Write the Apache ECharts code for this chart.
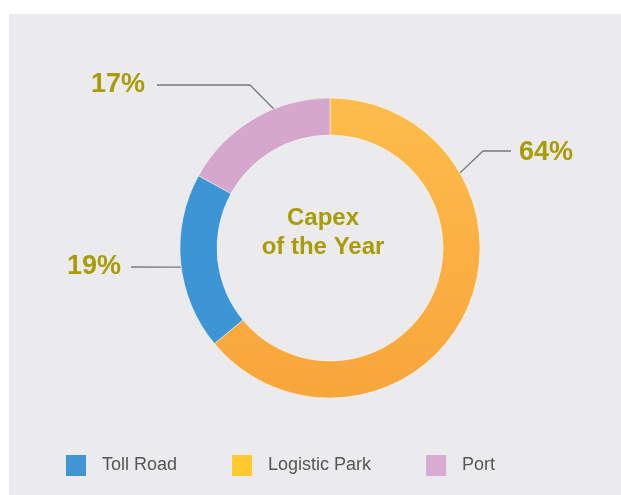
<!DOCTYPE html>
<html>
<head>
<meta charset="utf-8">
<script src="https://cdn.jsdelivr.net/npm/echarts@6/dist/echarts.min.js"></script>
<style>
  html, body { margin: 0; padding: 0; background: #ffffff; }
  #panel { position: absolute; left: 9px; top: 14px; width: 612px; height: 481px; background: #ebebed; }
  #chart { position: absolute; left: 0; top: 0; width: 621px; height: 495px; }
</style>
</head>
<body>
<div id="panel"></div>
<div id="chart"></div>
<script>
// Capex split by business segment (percent of the year's total)
const categories = ['Logistic Park', 'Toll Road', 'Port'];
const shares = [64, 19, 17];
const legendOrder = ['Toll Road', 'Logistic Park', 'Port'];
const centerTitle = 'Capex\nof the Year';

const CX = 330, CY = 248, R_IN = 113, R_OUT = 150;
const FONT = '"Liberation Sans", Arial, Helvetica, sans-serif';
const OLIVE = '#a99b02';

const sliceColors = {
  'Logistic Park': new echarts.graphic.LinearGradient(0, 0, 0, 1, [
    { offset: 0, color: '#fdbd4a' },
    { offset: 1, color: '#f8a53b' }
  ]),
  'Toll Road': '#3c95d5',
  'Port': '#d5a7cc'
};
const legendColors = {
  'Toll Road': '#4294d2',
  'Logistic Park': '#ffca30',
  'Port': '#d8acd0'
};

// Callout geometry: where the leader line meets the ring (deg clockwise from 12 o'clock),
// the elbow, the line end, and where the label text sits.
const callouts = {
  'Logistic Park': { angle: 60, elbow: [483, 151], end: [511, 151], text: [519, 153], align: 'left' },
  'Toll Road':     { angle: 262.7, elbow: [131, 267], end: [131, 267], text: [121, 267], align: 'right' },
  'Port':          { angle: 338, elbow: [250, 85], end: [157, 85], text: [145, 85], align: 'right' }
};

function ringPoint(deg) {
  const a = deg * Math.PI / 180;
  return [CX + R_OUT * Math.sin(a), CY - R_OUT * Math.cos(a)];
}

const chart = echarts.init(document.getElementById('chart'), null, { renderer: 'canvas' });

chart.setOption({
  animation: false,
  backgroundColor: 'transparent',
  legend: {
    left: 66,
    top: 455,
    padding: 0,
    itemWidth: 20,
    itemHeight: 21,
    itemGap: 55,
    icon: 'rect',
    selectedMode: false,
    itemStyle: { borderWidth: 0 },
    textStyle: { fontFamily: FONT, fontSize: 18, color: '#555555', padding: [2, 0, 0, 11] },
    data: legendOrder.map(n => ({ name: n, itemStyle: { color: legendColors[n], borderWidth: 0 } }))
  },
  graphic: [{
    type: 'text',
    x: 323,
    y: CY - 15,
    style: {
      text: centerTitle,
      fill: OLIVE,
      font: 'bold 24px ' + FONT,
      align: 'center',
      verticalAlign: 'middle',
      lineHeight: 29
    }
  }],
  series: [{
    type: 'pie',
    center: [CX, CY],
    radius: [R_IN, R_OUT],
    startAngle: 90,
    clockwise: true,
    avoidLabelOverlap: false,
    itemStyle: { borderColor: 'rgba(255,255,255,0.45)', borderWidth: 1 },
    label: {
      show: true,
      position: 'outside',
      formatter: '{c}%',
      color: OLIVE,
      fontFamily: FONT,
      fontWeight: 'bold',
      fontSize: 27
    },
    labelLine: {
      show: true,
      length: 20,
      length2: 20,
      lineStyle: { color: '#7a7a7a', width: 1.3 }
    },
    labelLayout: function (params) {
      const c = callouts[categories[params.dataIndex]];
      return {
        x: c.text[0],
        y: c.text[1],
        align: c.align,
        verticalAlign: 'middle',
        labelLinePoints: [ringPoint(c.angle), c.elbow, c.end]
      };
    },
    emphasis: { disabled: true },
    data: categories.map((n, i) => ({
      name: n,
      value: shares[i],
      itemStyle: { color: sliceColors[n] }
    }))
  }]
});
</script>
</body>
</html>
